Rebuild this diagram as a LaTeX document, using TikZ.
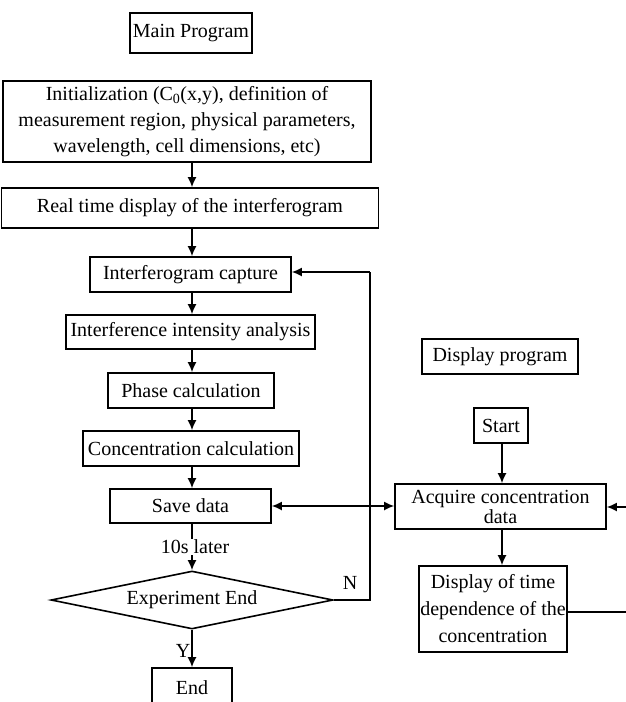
\documentclass[tikz,border=0pt]{standalone}
\usepackage{fontspec}
\setmainfont{Liberation Serif}
\usetikzlibrary{shapes.geometric,arrows.meta}
\begin{document}
\begin{tikzpicture}[x=1pt,y=-1pt,
  >={Latex[length=10pt,width=9pt]},
  every node/.style={font=\fontsize{20}{26}\selectfont},
  box/.style={draw,line width=1.6pt,inner sep=0pt,align=center},
  arr/.style={line width=1.6pt,->},
  ln/.style={line width=1.6pt},
  lbl/.style={inner sep=1pt}]
\useasboundingbox (0,0) rectangle (626,702);
\node[box,minimum width=122,minimum height=40] (main) at (191,33) {Main Program};
\node[box,minimum width=368,minimum height=81] (init) at (187,121.5) {Initialization (C\textsubscript{0}(x,y), definition of\\measurement region, physical parameters,\\wavelength, cell dimensions, etc)};
\node[box,minimum width=377,minimum height=40] (real) at (190,208) {Real time display of the interferogram};
\node[box,minimum width=201,minimum height=35] (cap) at (190.5,274.5) {Interferogram capture};
\node[box,minimum width=249,minimum height=34] (inten) at (190.5,332) {Interference intensity analysis};
\node[box,minimum width=166,minimum height=35] (phase) at (191,390.5) {Phase calculation};
\node[box,minimum width=216,minimum height=35] (conc) at (191,448.5) {Concentration calculation};
\node[box,minimum width=161,minimum height=34] (save) at (190.5,506) {Save data};
\node[draw,line width=1.6pt,diamond,aspect=4.86,inner sep=0pt,minimum width=282,minimum height=58] (exp) at (192,600) {Experiment End};
\node[box,minimum width=80,minimum height=40] (end) at (192,688) {End};
\node[box,minimum width=156,minimum height=35] (dprog) at (500,356.5) {Display program};
\node[box,minimum width=54,minimum height=35] (start) at (501,425.5) {Start};
\node[box,minimum width=211,minimum height=45,font=\fontsize{20}{20}\selectfont] (acq) at (500.5,506.5) {Acquire concentration\\data};
\node[box,minimum width=148,minimum height=86,font=\fontsize{20}{27}\selectfont] (disp) at (493,609) {Display of time\\dependence of the\\concentration};
\coordinate (loopb) at (370,600);
\coordinate (loopt) at (370,272);
\coordinate (rb) at (640,612);
\coordinate (rt) at (640,507);
\draw[arr] (init.south -| 192,0) -- (real.north -| 192,0);
\draw[arr] (real.south -| 192,0) -- (cap.north -| 192,0);
\draw[arr] (cap.south -| 192,0) -- (inten.north -| 192,0);
\draw[arr] (inten.south -| 192,0) -- (phase.north -| 192,0);
\draw[arr] (phase.south -| 192,0) -- (conc.north -| 192,0);
\draw[arr] (conc.south -| 192,0) -- (save.north -| 192,0);
\draw[arr] (save.south -| 192,0) -- node[fill=white,inner sep=1pt,xshift=3pt] (later) {10s later} (exp.north);
\draw[arr] (exp.south) -- node[left,lbl,yshift=-2pt] (ylab) {Y} (end.north);
\draw[ln] (exp.east) -- (loopb) -- (loopt);
\draw[arr] (loopt) -- (cap.east |- loopt);
\node[lbl] (nlab) at (350,583) {N};
\draw[line width=1.6pt,<->] (save.east) -- (acq.west |- save.east);
\draw[arr] (start.south -| 502,0) -- (acq.north -| 502,0);
\draw[arr] (acq.south -| 502,0) -- (disp.north -| 502,0);
\draw[ln] (disp.east |- rb) -- (rb) -- (rt);
\draw[arr] (rt) -- (acq.east |- rt);
\end{tikzpicture}
\end{document}
